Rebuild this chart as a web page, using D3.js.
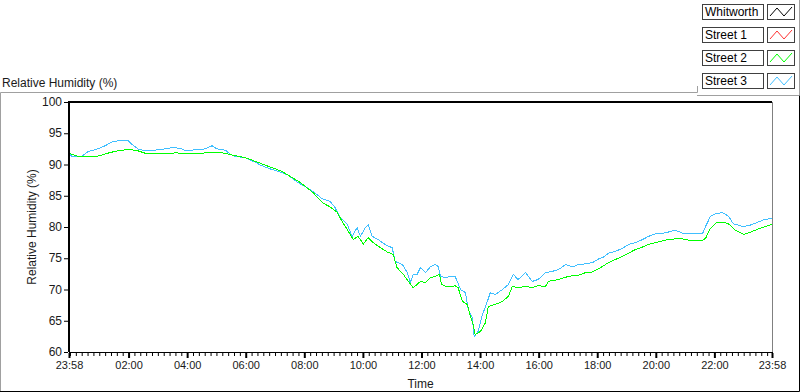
<!DOCTYPE html>
<html>
  <head>
    <meta charset="utf-8">
    <title>Relative Humidity (%)</title>
    <script src="https://d3js.org/d3.v7.min.js"></script>
    <style>
      body { margin: 0; background: #fff; }
      svg { display: block; font-family: "Liberation Sans", Arial, sans-serif; }
      .tick text { fill: #1a1a1a; }
    </style>
  </head>
  <body>
    <svg id="chart" width="800" height="392"></svg>
    <script>
      // time = minutes after 23:58, values = relative humidity (%)
      var seriesNames = ["Whitworth", "Street 1", "Street 2", "Street 3"];
      var seriesColors = ["#000000", "#ff3333", "#00ff00", "#40bfff"];

      var whitworthTime = [];
      var whitworthRH = [];
      var street1Time = [];
      var street1RH = [];

      var street2Time = [0, 18, 39, 64, 74, 94, 109, 125, 141, 156, 182, 211, 217, 238, 264, 293, 320, 334, 361, 392,
        412, 433, 449, 474, 500, 519, 535, 549, 560, 570, 582, 592, 603, 613, 623, 638, 652, 664, 672, 685,
        695, 705, 713, 720, 730, 740, 750, 759, 763, 775, 791, 797, 806, 816, 822, 828, 832, 843, 853, 859,
        873, 888, 900, 908, 920, 935, 949, 961, 976, 982, 1003, 1023, 1044, 1058, 1072, 1089, 1105, 1119, 1134, 1146,
        1160, 1175, 1187, 1201, 1216, 1228, 1242, 1257, 1269, 1283, 1298, 1304, 1314, 1328, 1341, 1351, 1365, 1382, 1400, 1412,
        1427, 1440];
      var street2RH = [91.8, 91.3, 91.2, 91.4, 91.7, 92.1, 92.3, 92.4, 92.2, 91.8, 91.7, 91.7, 91.9, 91.7, 91.7, 92.0, 91.8, 91.5, 91.1, 90.2,
        89.6, 89.0, 88.3, 87.1, 85.5, 83.9, 83.2, 82.4, 80.8, 79.6, 78.0, 78.5, 77.3, 78.3, 77.5, 76.7, 76.0, 75.6, 73.5, 72.4,
        71.3, 70.3, 70.8, 71.3, 71.1, 71.9, 72.1, 72.4, 70.8, 70.4, 70.6, 70.3, 68.1, 67.6, 65.7, 64.4, 62.8, 63.3, 64.7, 67.3,
        67.6, 68.1, 68.9, 70.5, 70.3, 70.5, 70.3, 70.6, 70.5, 71.3, 71.6, 72.1, 72.3, 72.7, 72.8, 73.5, 74.3, 74.8, 75.3, 75.8,
        76.4, 76.8, 77.2, 77.5, 77.8, 78.0, 78.1, 78.1, 77.9, 77.9, 77.9, 78.2, 79.8, 80.8, 80.8, 80.5, 79.5, 78.8, 79.3, 79.7,
        80.1, 80.4];

      var street3Time = [0, 6, 26, 40, 59, 74, 88, 100, 121, 131, 141, 156, 176, 197, 211, 228, 238, 252, 264, 279,
        293, 303, 320, 330, 340, 361, 371, 381, 392, 412, 433, 449, 467, 488, 508, 519, 535, 545, 556, 570,
        580, 590, 597, 607, 613, 621, 631, 642, 652, 662, 668, 683, 693, 699, 705, 713, 720, 730, 740, 750,
        756, 761, 771, 781, 791, 802, 812, 818, 826, 830, 838, 847, 857, 863, 873, 888, 900, 910, 920, 935,
        949, 961, 976, 990, 1003, 1017, 1031, 1044, 1058, 1072, 1085, 1093, 1105, 1119, 1134, 1146, 1160, 1175, 1187, 1201,
        1216, 1228, 1242, 1257, 1269, 1283, 1298, 1304, 1314, 1324, 1339, 1351, 1361, 1380, 1392, 1406, 1421, 1433, 1440];
      var street3RH = [91.8, 91.3, 91.3, 92.1, 92.5, 93.0, 93.6, 93.8, 93.8, 93.1, 92.5, 92.2, 92.3, 92.5, 92.7, 92.6, 92.2, 92.3, 92.4, 92.5,
        93.0, 92.5, 92.3, 91.7, 91.3, 91.1, 90.7, 90.4, 89.9, 89.3, 88.8, 88.3, 87.2, 86.3, 85.2, 84.5, 84.1, 83.1, 81.5, 80.4,
        78.5, 79.9, 78.5, 79.9, 80.3, 78.5, 78.1, 77.5, 77.0, 76.7, 74.5, 74.0, 72.7, 71.1, 72.4, 72.4, 73.5, 72.7, 73.6, 74.0,
        73.7, 72.1, 71.9, 72.1, 72.1, 70.0, 69.5, 66.8, 65.5, 62.5, 63.3, 66.0, 68.1, 69.5, 69.2, 70.0, 70.8, 72.4, 71.6, 72.7,
        71.3, 71.6, 72.7, 72.9, 73.2, 74.0, 73.6, 74.0, 74.1, 74.3, 74.9, 75.1, 75.8, 76.1, 76.6, 77.2, 77.5, 78.0, 78.5, 78.9,
        79.0, 79.2, 79.5, 79.0, 79.0, 78.9, 79.0, 80.1, 81.7, 82.1, 82.3, 81.7, 80.5, 80.1, 80.2, 80.6, 81.1, 81.3, 81.4];

      var yTicks = [60, 65, 70, 75, 80, 85, 90, 95, 100];
      var xTickMinutes = [0, 122, 242, 362, 482, 602, 722, 842, 962, 1082, 1202, 1322, 1440];
      var xTickLabels = ["23:58", "02:00", "04:00", "06:00", "08:00", "10:00", "12:00", "14:00", "16:00", "18:00", "20:00", "22:00", "23:58"];

      var series = [
        { time: whitworthTime, rh: whitworthRH },
        { time: street1Time, rh: street1RH },
        { time: street3Time, rh: street3RH },
        { time: street2Time, rh: street2RH }
      ];
      var drawColors = [seriesColors[0], seriesColors[1], seriesColors[3], seriesColors[2]];

      var chart = d3.select("#chart");
      var plot = { left: 69, right: 772, top: 102, bottom: 352 };

      var x = d3.scaleLinear().domain([0, 1440]).range([plot.left, plot.right]);
      var y = d3.scaleLinear().domain([60, 100]).range([plot.bottom, plot.top]);

      // panel frame
      chart.append("path")
        .attr("d", "M0.5,391V92.5H697.5V86")
        .attr("fill", "none").attr("stroke", "#a0a0a0");
      chart.append("path")
        .attr("d", "M0,391.5H799.5V95")
        .attr("fill", "none").attr("stroke", "#000");

      chart.append("text")
        .attr("x", 2).attr("y", 87)
        .attr("font-size", 12).attr("fill", "#1a1a1a")
        .text("Relative Humidity (%)");

      // lines
      var line = d3.line()
        .x(function(d) { return x(d[0]); })
        .y(function(d) { return y(d[1]); });
      series.forEach(function(s, i) {
        var pts = s.time.map(function(t, j) { return [t, s.rh[j]]; });
        if (!pts.length) return;
        chart.append("path")
          .datum(pts)
          .attr("d", line)
          .attr("fill", "none")
          .attr("stroke", drawColors[i])
          .attr("stroke-width", 1)
          .attr("shape-rendering", "crispEdges");
      });

      // plot frame: dark top/left, grey right
      chart.append("line")
        .attr("x1", plot.right + 0.5).attr("x2", plot.right + 0.5)
        .attr("y1", plot.top).attr("y2", plot.bottom)
        .attr("stroke", "#808080");
      chart.append("rect")
        .attr("x", plot.left - 1).attr("y", plot.top - 1)
        .attr("width", plot.right - plot.left + 1).attr("height", 2)
        .attr("fill", "#000");
      chart.append("rect")
        .attr("x", plot.left - 1).attr("y", plot.top - 1)
        .attr("width", 2).attr("height", plot.bottom - plot.top + 1)
        .attr("fill", "#000");
      chart.append("line")
        .attr("x1", plot.left).attr("x2", plot.right + 1)
        .attr("y1", plot.bottom + 0.5).attr("y2", plot.bottom + 0.5)
        .attr("stroke", "#000");

      // axes
      var yAxis = d3.axisLeft(y)
        .tickValues(yTicks)
        .tickSize(4)
        .tickPadding(2);
      var yG = chart.append("g")
        .attr("transform", "translate(" + (plot.left - 1) + ",0)")
        .call(yAxis);
      yG.select(".domain").remove();
      yG.selectAll("text").attr("font-size", 12).attr("font-family", null).attr("dy", "0.3em");

      var xAxis = d3.axisBottom(x)
        .tickValues(xTickMinutes)
        .tickFormat(function(d, i) { return xTickLabels[i]; })
        .tickSize(5)
        .tickPadding(3);
      var xG = chart.append("g")
        .attr("transform", "translate(0," + (plot.bottom + 1) + ")")
        .call(xAxis);
      xG.select(".domain").remove();
      xG.selectAll("line").attr("stroke-width", 2);
      xG.selectAll("text").attr("font-size", 11).attr("font-family", null);

      var minor = d3.range(2, 1440, 12).filter(function(m) { return xTickMinutes.indexOf(m) < 0; });
      var mG = chart.append("g")
        .attr("transform", "translate(0," + (plot.bottom + 1) + ")")
        .call(d3.axisBottom(x).tickValues(minor).tickSize(3).tickFormat(""));
      mG.select(".domain").remove();

      chart.append("text")
        .attr("x", (plot.left + plot.right) / 2).attr("y", 388)
        .attr("text-anchor", "middle").attr("font-size", 12).attr("fill", "#1a1a1a")
        .text("Time");
      chart.append("text")
        .attr("transform", "translate(36," + ((plot.top + plot.bottom) / 2) + ") rotate(-90)")
        .attr("text-anchor", "middle").attr("font-size", 12).attr("fill", "#1a1a1a")
        .text("Relative Humidity (%)");

      // legend
      var legend = chart.append("g");
      chart.append("path")
        .attr("d", "M799.5,0V95.5H697")
        .attr("fill", "none").attr("stroke", "#a0a0a0");
      seriesNames.forEach(function(name, i) {
        var g = legend.append("g").attr("transform", "translate(0," + (4 + i * 23) + ")");
        g.append("rect")
          .attr("x", 702.5).attr("y", 0.5).attr("width", 61).attr("height", 15)
          .attr("fill", "#fff").attr("stroke", "#404040");
        g.append("text")
          .attr("x", 705).attr("y", 12)
          .attr("font-size", 12).attr("fill", "#000")
          .text(name);
        g.append("rect")
          .attr("x", 767.5).attr("y", 0.5).attr("width", 27).attr("height", 15)
          .attr("fill", "#fff").attr("stroke", "#404040");
        g.append("path")
          .attr("d", "M770,12L777,4L784,12L792,3")
          .attr("fill", "none").attr("stroke", seriesColors[i]);
      });
    </script>
  </body>
</html>
